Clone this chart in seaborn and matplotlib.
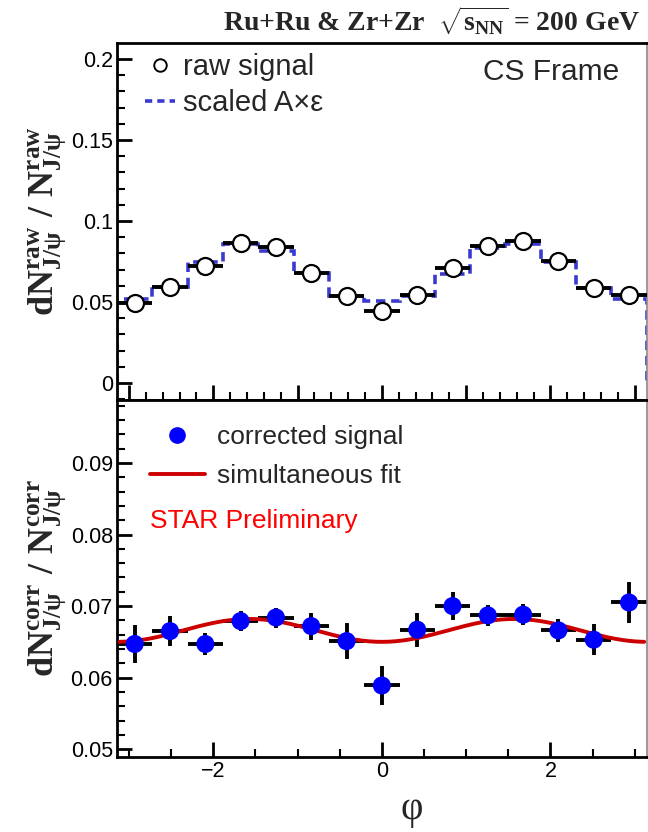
import numpy as np
import matplotlib
matplotlib.use("Agg")
import matplotlib.pyplot as plt
from matplotlib.lines import Line2D
from matplotlib.ticker import MultipleLocator, FixedLocator, FuncFormatter
import seaborn as sns
import pandas as pd

# ---------------- data ----------------
phi_centers = [-2.932, -2.513, -2.094, -1.676, -1.257, -0.838, -0.419, 0.0,
               0.419, 0.838, 1.257, 1.676, 2.094, 2.513, 2.932]
bin_edges = [-3.1416, -2.7227, -2.3038, -1.885, -1.4661, -1.0472, -0.6283, -0.2094,
             0.2094, 0.6283, 1.0472, 1.4661, 1.885, 2.3038, 2.7227, 3.1416]
raw_signal = [0.0495, 0.0592, 0.0724, 0.0864, 0.0839, 0.0680, 0.0536, 0.0447,
              0.0546, 0.0709, 0.0845, 0.0876, 0.0751, 0.0584, 0.0546]
scaled_acc_eff = [0.0520, 0.0594, 0.0746, 0.0860, 0.0814, 0.0680, 0.0536, 0.0509,
                  0.0540, 0.0676, 0.0835, 0.0856, 0.0750, 0.0588, 0.0520]
corr_signal = [0.0647, 0.0665, 0.0647, 0.0679, 0.0684, 0.0672, 0.0651, 0.0589,
               0.0667, 0.0700, 0.0687, 0.0688, 0.0666, 0.0653, 0.0705]
corr_err = [0.0027, 0.0021, 0.0016, 0.0014, 0.0014, 0.0019, 0.0025, 0.0027,
            0.0024, 0.0019, 0.0015, 0.0015, 0.0016, 0.0022, 0.0028]
# simultaneous fit parameters: N * (1 - a*cos(2 phi)) form
fit_norm = 0.0666
fit_amp = 0.0016

# ---------------- style ----------------
sns.set_theme(style="ticks")
plt.rcParams.update({
    "font.family": ["Liberation Sans", "DejaVu Sans"],
    "mathtext.fontset": "custom",
    "mathtext.rm": "Liberation Serif:bold",
    "mathtext.bf": "Liberation Serif:bold",
    "mathtext.it": "Liberation Serif:bold",
    "axes.linewidth": 2.0,
    "axes.edgecolor": "black",
    "xtick.direction": "in",
    "ytick.direction": "in",
    "xtick.color": "black",
    "ytick.color": "black",
})

W, H = 648, 832
fig = plt.figure(figsize=(6.48, 8.32), dpi=100)
ax1 = fig.add_axes([0.1806, 0.5192, 0.8174, 0.4291])
ax2 = fig.add_axes([0.1806, 0.0901, 0.8174, 0.4291])

centers = np.array(phi_centers)
edges = np.array(bin_edges)
half_w = np.diff(edges) / 2
BLUE_D = "#3a3ad0"

# ---------------- top panel ----------------
ax1.stairs(scaled_acc_eff, edges, baseline=0, color=BLUE_D, lw=2.6,
           linestyle=(0, (2.6, 1.6)), zorder=2)
ax1.errorbar(centers, raw_signal, xerr=half_w, fmt="none", ecolor="black",
             elinewidth=2.8, capsize=0, zorder=3)
df_raw = pd.DataFrame({"phi": centers, "val": raw_signal})
sns.scatterplot(data=df_raw, x="phi", y="val", ax=ax1, marker="o", s=150,
                facecolor="white", edgecolor="black", linewidth=1.6, zorder=4,
                legend=False)
ax1.set_xlim(-np.pi, np.pi)
ax1.set_ylim(-0.0105, 0.2099)
ax1.yaxis.set_major_locator(FixedLocator([0, 0.05, 0.1, 0.15, 0.2]))
ax1.yaxis.set_minor_locator(MultipleLocator(0.01))
ax1.yaxis.set_major_formatter(FuncFormatter(lambda v, p: f"{v:g}"))
ax1.xaxis.set_major_locator(MultipleLocator(1))
ax1.xaxis.set_minor_locator(MultipleLocator(0.2))
ax1.tick_params(axis="x", labelbottom=False)
ax1.set_xlabel("")
ax1.set_ylabel(r"$\mathrm{dN^{raw}_{J/\psi}\ /\ N^{raw}_{J/\psi}}$", fontsize=26)
ax1.yaxis.set_label_coords(-0.092, 0.5)

h_raw = Line2D([], [], marker="o", ls="none", mfc="white", mec="black", ms=9, mew=1.4)
h_acc = Line2D([], [], color=BLUE_D, lw=2.6, ls=(0, (2.0, 1.4)))
leg1 = ax1.legend([h_raw, h_acc], ["raw signal", "scaled A×ε"],
                  loc="upper left", bbox_to_anchor=(145 / W, 1 - 53 / H),
                  bbox_transform=fig.transFigure, frameon=False,
                  fontsize=21, handlelength=1.03, handletextpad=0.27,
                  labelspacing=0.27, borderaxespad=0, borderpad=0)
ax1.text(0.819, 0.919, "CS Frame", transform=ax1.transAxes, fontsize=21.5,
         ha="center", va="center")

# ---------------- bottom panel ----------------
phi_fine = np.linspace(-np.pi + 0.03, np.pi - 0.03, 400)
fit_curve = fit_norm - fit_amp * np.cos(2 * phi_fine)
df_fit = pd.DataFrame({"phi": phi_fine, "fit": fit_curve})
ax2.errorbar(centers, corr_signal, xerr=half_w, yerr=corr_err, fmt="none",
             ecolor="black", elinewidth=2.8, capsize=0, zorder=2)
sns.lineplot(data=df_fit, x="phi", y="fit", ax=ax2, color="#cc0000", lw=2.8,
             zorder=3)
df_corr = pd.DataFrame({"phi": centers, "val": corr_signal})
sns.scatterplot(data=df_corr, x="phi", y="val", ax=ax2, marker="o", s=170,
                color="#0000ff", edgecolor="none", zorder=4, legend=False)
ax2.set_xlim(-np.pi, np.pi)
ax2.set_ylim(0.0489, 0.0988)
ax2.yaxis.set_major_locator(FixedLocator([0.05, 0.06, 0.07, 0.08, 0.09]))
ax2.yaxis.set_minor_locator(MultipleLocator(0.002))
ax2.yaxis.set_major_formatter(FuncFormatter(lambda v, p: f"{v:.2f}"))
ax2.xaxis.set_major_locator(FixedLocator([-2, 0, 2]))
ax2.xaxis.set_minor_locator(MultipleLocator(0.5))
ax2.xaxis.set_major_formatter(FuncFormatter(lambda v, p: f"{v:g}".replace("-", "\u2212")))
ax2.set_xlabel("φ", fontsize=28, family=["Liberation Serif", "DejaVu Serif"])
ax2.xaxis.set_label_coords((412 - 117) / 530, -0.095)
ax2.set_ylabel(r"$\mathrm{dN^{corr}_{J/\psi}\ /\ N^{corr}_{J/\psi}}$", fontsize=26)
ax2.yaxis.set_label_coords(-0.092, 0.5)

h_corr = Line2D([], [], marker="o", ls="none", mfc="#0000ff", mec="#0000ff", ms=11)
h_fit = Line2D([], [], color="#cc0000", lw=2.8)
leg2 = ax2.legend([h_corr, h_fit], ["corrected signal", "simultaneous fit"],
                  loc="upper left", bbox_to_anchor=(150 / W, 1 - 425 / H),
                  bbox_transform=fig.transFigure, frameon=False,
                  fontsize=19, handlelength=2.08, handletextpad=0.45,
                  labelspacing=0.58, borderaxespad=0, borderpad=0)
ax2.text(0.062, 0.661, "STAR Preliminary", transform=ax2.transAxes, fontsize=19,
         color="#ff0000", ha="left", va="center")

for ax in (ax1, ax2):
    ax.tick_params(which="major", length=11, width=2, labelsize=15.5, pad=3)
    ax.tick_params(which="minor", length=5.5, width=1.5)
    ax.tick_params(top=False, right=False, which="both")
    ax.spines["right"].set_color("#888888")
    ax.spines["right"].set_linewidth(1.2)
    ax.spines["top"].set_linewidth(2)

# ---------------- title ----------------
fig.text(0.988, 0.975, r"Ru+Ru & Zr+Zr  $\sqrt{\mathrm{s_{NN}}}$ = 200 GeV",
         ha="right", va="center", fontsize=20, fontweight="bold",
         family=["Liberation Serif", "DejaVu Serif"])

fig.savefig("out.png", dpi=100)
